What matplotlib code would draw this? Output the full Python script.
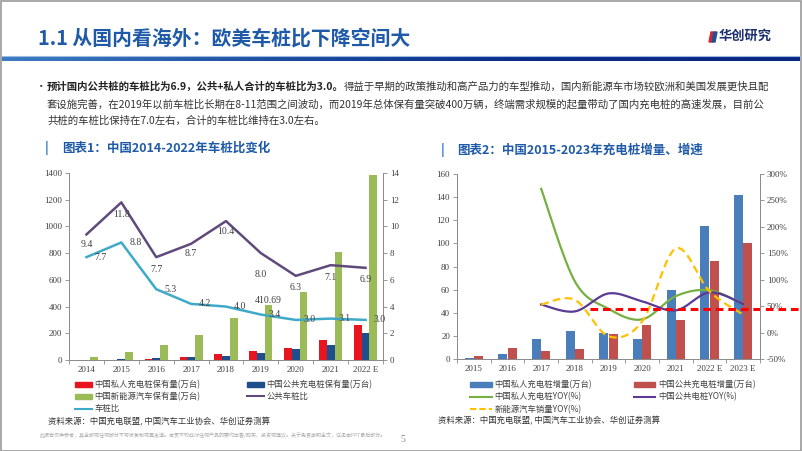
import matplotlib
matplotlib.use('Agg')
import matplotlib.pyplot as plt
import numpy as np
from matplotlib.patches import Rectangle, Polygon, Patch
from matplotlib.lines import Line2D
from matplotlib.colors import LinearSegmentedColormap

plt.rcParams['font.family'] = ['Noto Sans CJK SC', 'DejaVu Sans']

# ---------------- data: chart 1 ----------------
years1 = ['2014', '2015', '2016', '2017', '2018', '2019', '2020', '2021', '2022 E']
private_stock = [0.5, 1, 5, 20, 48, 70, 88, 147, 260]
public_stock = [2, 5, 14, 21, 30, 52, 81, 115, 200]
nev_stock = [22, 58, 109, 187, 312, 411, 510, 810, 1382]
public_ratio = [9.4, 11.8, 7.7, 8.7, 10.4, 8.0, 6.3, 7.1, 6.9]
total_ratio = [7.7, 8.8, 5.3, 4.2, 4.0, 3.4, 3.0, 3.1, 3.0]
nev_label_year = 5
nev_label_text = '410.69'

# ---------------- data: chart 2 ----------------
years2 = ['2015', '2016', '2017', '2018', '2019', '2020', '2021', '2022 E', '2023 E']
private_inc = [1.2, 4.6, 17, 24.5, 22.5, 17, 59.7, 115, 142]
public_inc = [2.6, 9.2, 7.2, 8.4, 21.7, 29.1, 34, 85, 100]
yoy_years = [2, 3, 4, 5, 6, 7, 8]  # index into years2 (2017..2023E)
private_yoy = [272, 97, 45, 25, 69, 80, 54]
public_yoy = [53, 40, 74, 59, 42, 76, 54]
nev_sales_yoy = [53, 62, -7, 21, 159, 78, 34]
ref_level = 45

# ---------------- texts ----------------
page_title = '1.1 从国内看海外：欧美车桩比下降空间大'
bullet_bold = '预计国内公共桩的车桩比为6.9，公共+私人合计的车桩比为3.0。'
bullet_rest1 = '得益于早期的政策推动和高产品力的车型推动，国内新能源车市场较欧洲和美国发展更快且配'
bullet_line2 = '套设施完善，在2019年以前车桩比长期在8-11范围之间波动，而2019年总体保有量突破400万辆，终端需求规模的起量带动了国内充电桩的高速发展，目前公'
bullet_line3 = '共桩的车桩比保持在7.0左右，合计的车桩比维持在3.0左右。'
title1 = '图表1：中国2014-2022年车桩比变化'
title2 = '图表2：中国2015-2023年充电桩增量、增速'
source = '资料来源：中国充电联盟, 中国汽车工业协会、华创证券测算'
disclaimer = '此报告仅供参考，其全部或任何部分不可被复制或再发送。本页不构成对任何产品的要约出售/购买、投资或建议。关于免责声明全文，详见本PPT最后部分。'

W, H = 802, 451
fig = plt.figure(figsize=(W / 100, H / 100), dpi=100)
fig.patch.set_facecolor('white')

def fx(px):
    return px / W

def fy(py):
    return 1 - py / H

BLUE_T = '#1F5AA8'
GRAY_T = '#404040'
SERIF = ['Liberation Serif', 'DejaVu Serif']

# header gradient band
axh = fig.add_axes([fx(2), fy(61.5), fx(798), 5 / H])
cm = LinearSegmentedColormap.from_list('hb', ['#3c7cc4', '#1c4fa0', '#0b2a8a', '#0a2580'])
axh.imshow(np.linspace(0, 1, 256)[None, :], aspect='auto', cmap=cm, extent=[0, 1, 0, 1])
axh.axis('off')
fig.add_artist(Line2D([fx(2), fx(800)], [fy(55.8), fy(55.8)], color='#9dbbe0', lw=0.8))

fig.text(fx(38), fy(38), page_title, fontsize=14.3, fontweight='bold', color=BLUE_T,
         va='center', ha='left')
# logo
fig.add_artist(Polygon([[fx(709), fy(42)], [fx(711), fy(32)], [fx(714), fy(32)], [fx(712), fy(42)]],
                       closed=True, color='#d7262b', transform=fig.transFigure))
fig.add_artist(Polygon([[fx(712), fy(42)], [fx(714), fy(32)], [fx(717), fy(32)], [fx(715), fy(42)]],
                       closed=True, color='#1f4ea0', transform=fig.transFigure))
fig.text(fx(719), fy(36), '华创研究', fontsize=9.5, fontweight='bold', color='#1a2f6e',
         va='center', ha='left')

# bullet text
fig.text(fx(36), fy(87), '•', fontsize=7.5, color='#333333', va='center')
tb = fig.text(fx(47), fy(87), bullet_bold, fontsize=7.5, fontweight='bold', color='#222222', va='center')
fig.canvas.draw()
bb = tb.get_window_extent(fig.canvas.get_renderer())
fig.text(bb.x1 / W, fy(87), bullet_rest1, fontsize=7.5, color='#333333', va='center')
fig.text(fx(47), fy(104), bullet_line2, fontsize=7.5, color='#333333', va='center')
fig.text(fx(47), fy(121), bullet_line3, fontsize=7.5, color='#333333', va='center')

# chart titles
fig.text(fx(45), fy(148), '|', fontsize=9, fontweight='bold', color='#2a78c8', va='center')
fig.text(fx(62), fy(148), title1, fontsize=9, fontweight='bold', color=BLUE_T, va='center')
fig.text(fx(441), fy(150), '|', fontsize=9, fontweight='bold', color='#2a78c8', va='center')
fig.text(fx(457), fy(150), title2, fontsize=9, fontweight='bold', color=BLUE_T, va='center')


def style_axes(ax, axr, labels):
    n = len(labels)
    ax.set_xlim(-0.5, n - 0.5)
    ax.set_xticks(np.arange(n))
    ax.set_xticklabels(labels)
    ax.set_xticks(np.arange(n + 1) - 0.5, minor=True)
    ax.tick_params(axis='x', which='major', length=0, pad=4)
    ax.tick_params(axis='x', which='minor', length=3, color='#888888', width=0.6)
    for a in (ax, axr):
        a.spines['top'].set_visible(False)
        for s in ('left', 'right', 'bottom'):
            a.spines[s].set_color('#8c8c8c')
            a.spines[s].set_linewidth(0.7)
        a.tick_params(axis='y', length=3, color='#888888', width=0.6, pad=2)
        for lab in a.get_xticklabels() + a.get_yticklabels():
            lab.set_fontfamily(SERIF)
            lab.set_fontsize(6.5)
            lab.set_color(GRAY_T)
    ax.set_facecolor('none')


def smooth(xs, ys, n=30):
    pts = np.array([xs, ys], dtype=float).T
    out = []
    for i in range(len(pts) - 1):
        p0 = pts[i - 1] if i > 0 else pts[i]
        p1 = pts[i]
        p2 = pts[i + 1]
        p3 = pts[i + 2] if i + 2 < len(pts) else pts[i + 1]
        c1 = p1 + (p2 - p0) / 6
        c2 = p2 - (p3 - p1) / 6
        t = np.linspace(0, 1, n, endpoint=False)[:, None]
        out.append((1 - t) ** 3 * p1 + 3 * (1 - t) ** 2 * t * c1 + 3 * (1 - t) * t ** 2 * c2 + t ** 3 * p2)
    out.append(pts[-1:])
    s = np.vstack(out)
    return s[:, 0], s[:, 1]

# ---------------- chart 1 ----------------
C_RED, C_BLUE, C_GREEN = '#E8141E', '#1F4E8C', '#9BBB59'
C_PUR, C_CYAN = '#604A7B', '#3FA9C9'
ax1 = fig.add_axes([fx(69), fy(360), fx(314), 187 / H])
x1 = np.arange(len(years1))
bw = 0.22
ax1.bar(x1 - bw, private_stock, bw, color=C_RED)
ax1.bar(x1, public_stock, bw, color=C_BLUE)
ax1.bar(x1 + bw, nev_stock, bw, color=C_GREEN)
ax1.set_ylim(0, 1400)
ax1.set_yticks(np.arange(0, 1401, 200))
ax1.text(nev_label_year + bw, nev_stock[nev_label_year], nev_label_text, ha='center', va='bottom',
         fontsize=7, fontfamily=SERIF, color=GRAY_T)
ax1r = ax1.twinx()
ax1r.set_ylim(0, 14)
ax1r.set_yticks(np.arange(0, 15, 2))
ax1r.plot(x1, public_ratio, color=C_PUR, lw=1.8)
ax1r.plot(x1, total_ratio, color=C_CYAN, lw=1.8)
pur_dy = [-10, -12, -12, -10, -10, -21, -12, -12, -12]
for i, v in enumerate(public_ratio):
    ax1r.annotate(f'{v:.1f}', (i, v), xytext=(0, pur_dy[i]), textcoords='offset pixels',
                  ha='center', va='center', fontsize=7, fontfamily=SERIF, color=GRAY_T)
for i, v in enumerate(total_ratio):
    ax1r.annotate(f'{v:.1f}', (i, v), xytext=(14, 0), textcoords='offset pixels',
                  ha='center', va='center', fontsize=7, fontfamily=SERIF, color=GRAY_T)
style_axes(ax1, ax1r, years1)

h_red = Patch(color=C_RED, label='中国私人充电桩保有量(万台)')
h_blue = Patch(color=C_BLUE, label='中国公共充电桩保有量(万台)')
h_green = Patch(color=C_GREEN, label='中国新能源汽车保有量(万台)')
h_pur = Line2D([], [], color=C_PUR, lw=1.5, label='公共车桩比')
h_cyan = Line2D([], [], color=C_CYAN, lw=1.5, label='车桩比')
leg1 = fig.legend(handles=[h_red, h_green, h_cyan, h_blue, h_pur], ncol=2, loc='upper left',
                  bbox_to_anchor=(fx(71), fy(376)), frameon=False, fontsize=6, borderpad=0,
                  handlelength=2.0, handleheight=0.6, handletextpad=0.3, labelspacing=0.35,
                  columnspacing=5.6)
for t in leg1.get_texts():
    t.set_color(GRAY_T)
fig.text(fx(48), fy(422), source, fontsize=6, color='#333333', va='center')

# ---------------- chart 2 ----------------
C2_BLUE, C2_RED = '#4A7EBB', '#C0504D'
C2_GREEN, C2_PUR, C2_YEL, C2_REF = '#76B041', '#5B3A96', '#FFC000', '#FF0000'
ax2 = fig.add_axes([fx(457), fy(359), fx(303), 185 / H])
x2 = np.arange(len(years2))
bw2 = 0.28
ax2.bar(x2 - bw2 / 2, private_inc, bw2 * 0.97, color=C2_BLUE)
ax2.bar(x2 + bw2 / 2, public_inc, bw2 * 0.97, color=C2_RED)
ax2.set_ylim(0, 160)
ax2.set_yticks(np.arange(0, 161, 20))
ax2r = ax2.twinx()
ax2r.set_ylim(-50, 300)
ax2r.set_yticks(np.arange(-50, 301, 50))
ax2r.set_yticklabels([f'{v}%' for v in range(-50, 301, 50)])
sx, sy = smooth(yoy_years, private_yoy)
ax2r.plot(sx, sy, color=C2_GREEN, lw=1.6)
sx, sy = smooth(yoy_years, public_yoy)
ax2r.plot(sx, sy, color=C2_PUR, lw=1.6)
sx, sy = smooth(yoy_years, nev_sales_yoy)
ax2r.plot(sx, sy, color=C2_YEL, lw=1.6, ls=(0, (3.5, 2)))
ax2r.plot([3.45, 9.68], [ref_level, ref_level], color=C2_REF, lw=2.2, ls=(0, (2.5, 1.6)),
          clip_on=False)
style_axes(ax2, ax2r, years2)

g_blue = Patch(color=C2_BLUE, label='中国私人充电桩增量(万台)')
g_red = Patch(color=C2_RED, label='中国公共充电桩增量(万台)')
g_green = Line2D([], [], color=C2_GREEN, lw=1.5, label='中国私人充电桩YOY(%)')
g_pur = Line2D([], [], color=C2_PUR, lw=1.5, label='中国公共电桩YOY(%)')
g_yel = Line2D([], [], color=C2_YEL, lw=1.5, ls=(0, (3, 1.5)), label='新能源汽车销量YOY(%)')
leg2 = fig.legend(handles=[g_blue, g_green, g_yel, g_red, g_pur], ncol=2, loc='upper left',
                  bbox_to_anchor=(fx(466), fy(376)), frameon=False, fontsize=6, borderpad=0,
                  handlelength=2.6, handleheight=0.6, handletextpad=0.3, labelspacing=0.4,
                  columnspacing=5.0)
for t in leg2.get_texts():
    t.set_color(GRAY_T)
fig.text(fx(438), fy(421), source, fontsize=6, color='#333333', va='center')

# footer
fig.text(fx(40), fy(435), disclaimer, fontsize=3.6, color='#aaaaaa', va='center')
fig.text(fx(400), fy(440), '5', fontsize=7, color='#888888', va='center', fontfamily=SERIF)

fig.add_artist(Rectangle((0.5 / W, 0.5 / H), 1 - 1.5 / W, 1 - 1.5 / H, transform=fig.transFigure,
                         fill=False, edgecolor='#9a9a9a', lw=1.2))

fig.savefig('out.png', dpi=100, facecolor='white')
